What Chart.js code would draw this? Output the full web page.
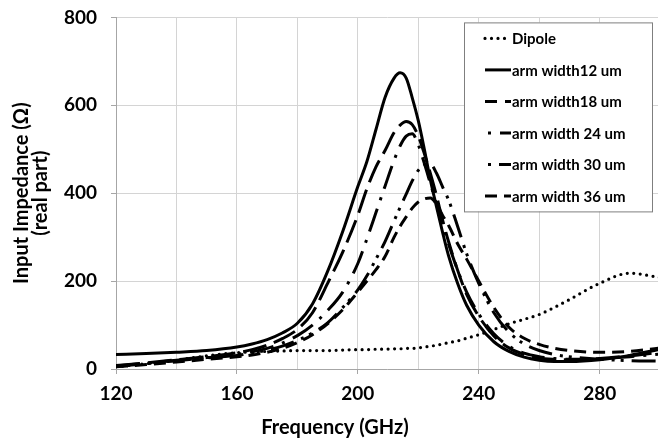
<!DOCTYPE html>
<html>
<head>
<meta charset="utf-8">
<script src="https://cdn.jsdelivr.net/npm/chart.js@4.4.1/dist/chart.umd.min.js"></script>
<style>
  html, body { margin: 0; padding: 0; background: #fff; overflow: hidden; }
  #impChart { display: block; margin-top: -8px; }
</style>
</head>
<body>
<canvas id="impChart" width="658" height="451"></canvas>
<script>
// frequency grid (GHz)
const freq = [120, 130, 140, 150, 160, 165, 170, 175, 180, 185, 190, 195, 200, 203, 206, 209, 212, 214, 216, 218,
  220, 222, 224, 226, 228, 230, 233, 236, 240, 245, 250, 255, 260, 265, 270, 280, 290, 300];

// real part of input impedance (ohm)
const dipole = [5, 12, 20, 30, 37, 39, 40, 41, 42, 42, 42, 43, 44, 44, 45, 45, 46, 46, 47, 47,
  48, 50, 52, 54, 57, 60, 64, 70, 78, 90, 103, 113, 124, 140, 158, 195, 218, 208];
const arm12 = [33, 35, 38, 42, 50, 57, 67, 82, 104, 148, 222, 313, 415, 472, 545, 618, 662, 674, 662, 617,
  565, 500, 430, 370, 312, 258, 195, 145, 100, 62, 40, 27, 20, 17, 17, 21, 31, 45];
const arm18 = [8, 14, 21, 28, 37, 44, 54, 69, 90, 128, 195, 266, 350, 410, 460, 497, 538, 555, 563, 556,
  530, 490, 445, 395, 340, 290, 225, 170, 120, 75, 48, 33, 25, 22, 21, 24, 30, 38];
const arm24 = [7, 13, 20, 26, 33, 39, 47, 59, 76, 100, 133, 175, 240, 296, 356, 416, 475, 508, 530, 535,
  510, 468, 422, 376, 330, 285, 225, 175, 125, 80, 52, 36, 28, 24, 22, 24, 28, 34];
const arm30 = [6, 12, 19, 25, 31, 36, 43, 52, 65, 82, 105, 140, 180, 212, 250, 290, 337, 368, 398, 428,
  452, 464, 466, 446, 415, 385, 325, 262, 195, 128, 84, 57, 42, 33, 28, 22, 19, 18];
const arm36 = [5, 10, 16, 22, 28, 32, 38, 47, 60, 78, 103, 135, 175, 200, 226, 256, 300, 325, 346, 366,
  380, 387, 389, 375, 350, 327, 285, 250, 200, 140, 95, 70, 56, 47, 42, 38, 40, 48];

const seriesNames = ['Dipole', 'arm width12 um', 'arm width18 um', 'arm width 24 um', 'arm width 30 um', 'arm width 36 um'];
const seriesValues = [dipole, arm12, arm18, arm24, arm30, arm36];
const dashes = [[0, 6.5], [], [24, 8], [24, 9, 3, 9], [24, 8, 3, 6, 3, 8], [12, 7]];
// where each legend sample starts inside its dash pattern
const legendOffsets = [0, 0, 12, 30, 38, 0];

const FONT = 'Lato';

const datasets = seriesValues.map((vals, i) => ({
  label: seriesNames[i],
  data: freq.map((f, k) => ({x: f, y: vals[k]})),
  borderColor: '#000',
  borderWidth: i === 0 ? 3.2 : 3,
  borderDash: dashes[i],
  borderCapStyle: i === 0 ? 'round' : 'butt',
  pointRadius: 0,
  cubicInterpolationMode: 'monotone',
  fill: false
}));

// legend drawn as a boxed panel inside the plot, like the original
const boxLegend = {
  id: 'boxLegend',
  afterDatasetsDraw(chart) {
    const {ctx, chartArea} = chart;
    const left = chartArea.right - 194, top = chartArea.top + 5;
    const w = 188, h = 189;
    ctx.save();
    ctx.fillStyle = '#fff';
    ctx.fillRect(left, top, w, h);
    ctx.strokeStyle = '#7f7f7f';
    ctx.lineWidth = 1;
    ctx.strokeRect(left + 0.5, top + 0.5, w, h);
    ctx.font = 'bold 15px ' + FONT;
    ctx.textBaseline = 'middle';
    ctx.fillStyle = '#000';
    chart.data.datasets.forEach((ds, i) => {
      const y = top + 16 + i * 31.5;
      ctx.beginPath();
      ctx.setLineDash(ds.borderDash);
      ctx.lineDashOffset = legendOffsets[i];
      ctx.lineCap = ds.borderCapStyle;
      ctx.lineWidth = ds.borderWidth;
      ctx.strokeStyle = '#000';
      ctx.moveTo(left + 21, y);
      ctx.lineTo(left + 47, y);
      ctx.stroke();
      ctx.setLineDash([]);
      ctx.fillText(ds.label, left + 48, y + 1);
    });
    ctx.restore();
  }
};

new Chart(document.getElementById('impChart'), {
  type: 'line',
  data: {datasets},
  plugins: [boxLegend],
  options: {
    responsive: false,
    animation: false,
    layout: {padding: {top: 0, left: 12, right: 0, bottom: 0}},
    plugins: {
      legend: {display: false},
      tooltip: {enabled: false},
      title: {
        display: true,
        position: 'bottom',
        text: 'Frequency (GHz)',
        color: '#000',
        font: {family: FONT, size: 20, weight: 'bold', lineHeight: 1.2},
        padding: {top: 0, bottom: 3}
      }
    },
    scales: {
      x: {
        type: 'linear',
        min: 120,
        max: 299.3,
        afterFit: (scale) => { scale.height = 47; },
        ticks: {
          stepSize: 20,
          includeBounds: false,
          autoSkip: false,
          maxRotation: 0,
          padding: 8,
          color: '#000',
          font: {family: FONT, size: 19, weight: 'bold'},
          callback: (v) => (v % 40 === 0 ? v : '')
        },
        grid: {
          color: '#d4d4d4',
          tickLength: 5,
          tickColor: (c) => (c.tick && c.tick.value % 40 === 0 ? '#a6a6a6' : 'rgba(0,0,0,0)')
        },
        border: {color: '#a6a6a6'}
      },
      y: {
        min: 0,
        max: 800,
        afterFit: (scale) => { scale.width = 104; },
        ticks: {
          stepSize: 200,
          padding: 14,
          color: '#000',
          font: {family: FONT, size: 19, weight: 'bold'}
        },
        grid: {color: '#d4d4d4', tickLength: 5, tickColor: '#a6a6a6'},
        border: {color: '#a6a6a6'},
        title: {
          display: true,
          text: ['Input Impedance (Ω)', '(real part)'],
          color: '#000',
          font: {family: FONT, size: 20, weight: 'bold', lineHeight: 0.95},
          padding: {top: 0, bottom: 0}
        }
      }
    }
  }
});
</script>
</body>
</html>
